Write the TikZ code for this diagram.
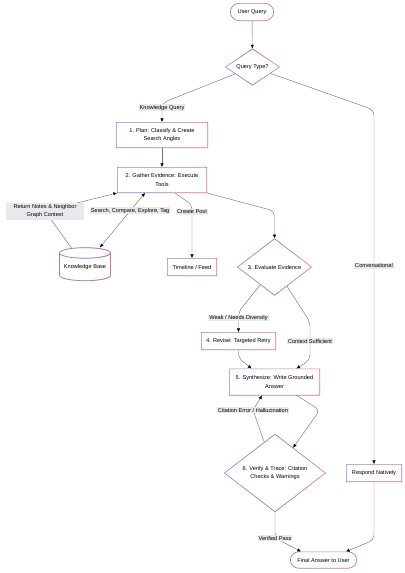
\documentclass[tikz,border=0pt]{standalone}
\usepackage{fontspec}
\setmainfont{Liberation Sans}
\usepackage{tikz}
\usetikzlibrary{positioning, shapes.geometric, fadings, arrows.meta}

\definecolor{edgeblue}{HTML}{7F86E6}
\definecolor{edgepink}{HTML}{E8708E}
\definecolor{lblbg}{HTML}{E8E8EE}
\definecolor{wire}{HTML}{707070}

% Gradient outlines, drawn over a node
\newcommand{\rectframe}[1]{%
  \shade[left color=edgeblue, right color=edgepink, even odd rule]
    (#1.north west) rectangle (#1.south east)
    ([shift={(1pt,-1pt)}]#1.north west) rectangle ([shift={(-1pt,1pt)}]#1.south east);}
\newcommand{\pillframe}[2]{%
  \shade[left color=edgeblue, right color=edgepink, even odd rule]
    [rounded corners=#2] (#1.north west) rectangle (#1.south east)
    [rounded corners=#2-1pt] ([shift={(1pt,-1pt)}]#1.north west) rectangle ([shift={(-1pt,1pt)}]#1.south east);}
\newcommand{\diamframe}[1]{%
  \shade[left color=edgeblue, right color=edgepink, even odd rule]
    (#1.north) -- (#1.east) -- (#1.south) -- (#1.west) -- cycle
    ([yshift=-1.4pt]#1.north) -- ([xshift=-1.4pt]#1.east) -- ([yshift=1.4pt]#1.south) -- ([xshift=1.4pt]#1.west) -- cycle;}

\begin{document}
\begin{tikzpicture}[
    x=0.5mm, y=-0.5mm,
    font=\fontsize{8}{12.4}\selectfont,
    box/.style={rectangle, fill=white, align=center, inner sep=0pt, outer sep=0pt},
    decision/.style={diamond, aspect=1, fill=white, align=center, inner sep=0pt, outer sep=0pt},
    store/.style={cylinder, shape border rotate=90, aspect=0.25, align=center, inner sep=0pt,
        draw=edgeblue, line width=1pt, fill=white, postaction={draw=edgepink, line width=1pt, path fading=west}},
    lbl/.style={fill=lblbg, sharp corners, inner sep=1.2pt, align=center},
    flow/.style={->, draw=wire, line width=0.6pt, rounded corners=2.5mm},
    >={Latex[length=1.8mm, width=1.7mm, color=black]}
]
\useasboundingbox (0,0) rectangle (405,573);

% Steps
\node[box, minimum width=22mm, minimum height=9mm] (uq) at (252,12) {User Query};
\node[decision, minimum width=27.5mm] (qt) at (252.5,67) {Query Type?};
\node[box, minimum width=46mm, minimum height=13mm] (p1) at (162,135) {1. Plan: Classify \& Create\\Search Angles};
\node[box, minimum width=45mm, minimum height=13mm, below=9.5mm of p1] (p2) {2. Gather Evidence: Execute\\Tools};
\node[store, minimum width=25.5mm, minimum height=16.5mm] (kb) at (85,267) {Knowledge Base};
\node[box, minimum width=25mm, minimum height=9mm] (tl) at (192,267) {Timeline / Feed};
\node[decision, minimum width=37.5mm] (ev) at (274.5,267) {3. Evaluate Evidence};
\node[box, minimum width=37.5mm, minimum height=9mm] (p4) at (238.5,341) {4. Revise: Targeted Retry};
\node[box, minimum width=45.5mm, minimum height=13.5mm] (p5) at (274.5,382) {5. Synthesize: Write Grounded\\Answer};
\node[decision, minimum width=51mm] (vt) at (275,473) {6. Verify \& Trace: Citation\\Checks \& Warnings};
\node[box, minimum width=28mm, minimum height=9mm, right=10mm of vt] (rn) {Respond Natively};
\node[box, minimum width=33.5mm, minimum height=8.5mm] (fa) at (323.5,560) {Final Answer to User};

% Outlines
\foreach \n in {p1,p2,tl,p4,p5,rn} {
    \rectframe{\n}
}
\foreach \n in {qt,ev,vt} {
    \diamframe{\n}
}
\pillframe{uq}{4.5mm}
\pillframe{fa}{4.25mm}

% Straight links
\foreach \a/\b in {uq/qt, p1/p2} {
    \draw[flow] (\a) -- (\b);
}

% Routing
\draw[flow] (qt) -- (162,103) -- node[lbl, pos=0.26] (kq) {Knowledge Query} (p1);
\draw[flow] (qt) -- (374,110) -- node[lbl, pos=0.44] (cv) {Conversational} (rn);

% Tools
\draw[flow] (kb) -- (45,211) node[lbl, minimum width=39mm, minimum height=8.5mm] (rg) {Return Notes \& Neighbor\\Graph Context} -- (p2.south west);
\draw[flow, <->] ([xshift=-8.5mm]p2.south) -- node[lbl, pos=0.33] (sc) {Search, Compare, Explore, Tag} ([xshift=7.5mm]kb.north);
\draw[flow] ([xshift=6.5mm]p2.south) -- (192,205) -- node[lbl, pos=0.13] (cp) {Create Post} (tl);
\draw[flow] (p2.south east) -- (274.5,211) -- (ev);

% Evaluation
\draw[flow] (ev) -- (238.5,312) -- node[lbl, pos=0.3] (wk) {Weak / Needs Diversity} (p4);
\draw[flow] (ev) -- (310,322) -- node[lbl] (cs) {Context Sufficient} (310,360) -- ([xshift=11mm]p5.north);
\draw[flow] (p4) -- (238.5,358) -- ([xshift=-11.5mm]p5.north);

% Verification
\draw[flow] ([xshift=11mm]p5.south) -- (320,410) -- (vt);
\draw[flow] (vt) -- (253,410) node[lbl] (ce) {Citation Error / Hallucination} -- ([xshift=-6.25mm]p5.south);
\draw[flow] (vt) -- (275,538) node[lbl] (vp) {Verified Pass} -- ([xshift=-11.25mm]fa.north);
\draw[flow] (rn) -- (374,540) -- ([xshift=11.25mm]fa.north);

\end{tikzpicture}
\end{document}
